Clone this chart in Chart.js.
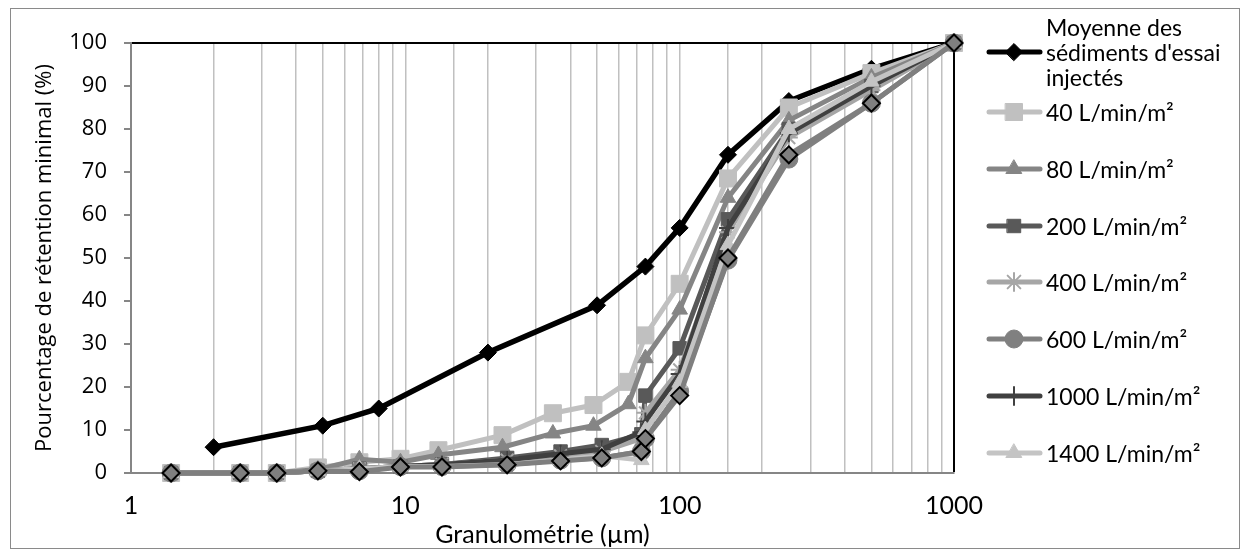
<!DOCTYPE html>
<html>
<head>
<meta charset="utf-8">
<script src="https://cdn.jsdelivr.net/npm/chart.js@4.4.0/dist/chart.umd.min.js"></script>
<style>
  html, body { margin: 0; padding: 0; background: #fff; }
  #wrap { position: relative; width: 1248px; height: 550px; overflow: hidden; }
  #frame { position: absolute; left: 10px; top: 8px; width: 1230px; height: 541px; border: 1px solid #8a8a8a; box-sizing: border-box; pointer-events: none; }
  #chart { position: absolute; left: 0; top: 0; }
  .sw { position: absolute; left: 985px; }
  .lbl { position: absolute; left: 1046px; font-family: Lato, sans-serif; font-size: 23px; line-height: 24px; color: #000; white-space: nowrap; }
</style>
</head>
<body>
<div id="wrap">
  <div id="frame"></div>
  <canvas id="chart" width="1248" height="550"></canvas>
  <div id="legend"></div>
</div>
<script>
// mean of the injected test sediment
const xMoyenne = [2, 5, 8, 20, 50, 75, 100, 150, 250, 500, 1000];
const yMoyenne = [6, 11, 15, 28, 39, 48, 57, 74, 86.5, 94, 100];

// particle sizes (µm) of the retained fractions
const xSizesA = [1.4, 2.5, 3.4, 4.8, 6.8, 9.6, 13.2, 22.6, 34.5, 48.5, 65, 75, 100, 150, 250, 500, 1000];
const xSizesB = [1.4, 2.5, 3.4, 4.8, 6.8, 9.6, 13.6, 23.5, 36.8, 52, 72.5, 75, 100, 150, 250, 500, 1000];

const y40 = [0, 0, 0, 1.3, 2.5, 3.3, 5.3, 8.8, 13.9, 15.8, 21.2, 32, 44, 68.5, 85, 93, 100];
const y80 = [0, 0, 0, 0.8, 3.2, 2.5, 4.2, 6, 9.2, 11, 16, 26.7, 38, 64, 82, 92, 100];
const y200 = [0, 0, 0, 0.5, 1, 1.5, 2, 3.5, 5, 6.5, 9, 18, 29, 59, 80, 90, 100];
const y400 = [0, 0, 0, 0.5, 1, 1.5, 2, 3, 4, 5, 8, 14, 24, 56, 78, 89, 100];
const y600 = [0, 0, 0, 0.5, 0.5, 1.5, 1.5, 2, 3, 3.5, 5, 8, 19, 49.5, 73, 86, 100];
const y1000 = [0, 0, 0, 0.5, 1, 1.5, 2, 3, 4.5, 5.5, 9.5, 12, 23, 57, 79, 90, 100];
const y1400 = [0, 0, 0, 0.5, 1, 1.5, 1.5, 2, 3, 4, 3, 10, 21, 53, 80, 91, 100];
const yDiamond = [0, 0, 0, 0.5, 0.3, 1.4, 1.4, 1.9, 2.8, 3.5, 5, 8, 18, 50, 74, 86, 100];

const seriesLabels = ['Moyenne des|sédiments d\'essai|injectés', '40 L/min/m²', '80 L/min/m²', '200 L/min/m²',
  '400 L/min/m²', '600 L/min/m²', '1000 L/min/m²', '1400 L/min/m²', ''];
const seriesX = [xMoyenne, xSizesA, xSizesA, xSizesB, xSizesB, xSizesB, xSizesB, xSizesB, xSizesB];
const seriesY = [yMoyenne, y40, y80, y200, y400, y600, y1000, y1400, yDiamond];

const styles = [
  { line: '#000000', fill: '#000000', border: '#000000', point: 'rectRot', r: 8.5, bw: 1 },
  { line: '#c0c0c0', fill: '#c0c0c0', border: '#c0c0c0', point: 'rect', r: 12, bw: 1 },
  { line: '#858585', fill: '#858585', border: '#858585', point: 'triangle', r: 9, bw: 1 },
  { line: '#595959', fill: '#595959', border: '#595959', point: 'rect', r: 9.5, bw: 1 },
  { line: '#a6a6a6', fill: '#a6a6a6', border: '#a6a6a6', point: 'star', r: 9, bw: 2 },
  { line: '#808080', fill: '#808080', border: '#808080', point: 'circle', r: 9, bw: 1 },
  { line: '#404040', fill: '#404040', border: '#404040', point: 'cross', r: 9, bw: 2 },
  { line: '#c4c4c4', fill: '#c4c4c4', border: '#c4c4c4', point: 'triangle', r: 9, bw: 1 },
  { line: '#7f7f7f', fill: '#7f7f7f', border: '#000000', point: 'rectRot', r: 8.5, bw: 2 }
];

const rowY = [52, 112, 169, 226, 282, 339, 396, 453];

const datasets = seriesY.map((ys, i) => ({
  label: seriesLabels[i],
  data: ys.map((y, j) => ({ x: seriesX[i][j], y: y })),
  borderColor: styles[i].line,
  borderWidth: i === 0 ? 5.5 : 5,
  backgroundColor: styles[i].fill,
  pointStyle: styles[i].point,
  pointRadius: styles[i].r,
  pointBorderColor: styles[i].border,
  pointBackgroundColor: styles[i].fill,
  pointBorderWidth: styles[i].bw,
  tension: 0,
  clip: false,
  order: seriesY.length - i
}));

new Chart(document.getElementById('chart'), {
  type: 'line',
  data: { datasets },
  options: {
    responsive: false,
    animation: false,
    layout: { padding: { left: 0, top: 43, right: 294, bottom: 0 } },
    plugins: { legend: { display: false }, tooltip: { enabled: false } },
    scales: {
      x: {
        type: 'logarithmic',
        min: 1,
        max: 1000,
        grid: {
          color: c => (c.tick && c.tick.value === 1000) ? '#000000' : '#c0c0c0',
          lineWidth: c => (c.tick && c.tick.value === 1000) ? 2 : 1.5,
          drawTicks: false
        },
        border: { color: '#868686', width: 2 },
        ticks: {
          autoSkip: false,
          maxRotation: 0,
          padding: 18,
          color: '#000',
          font: { family: 'Lato', size: 25 },
          callback: v => {
            const l = Math.log10(v);
            return Math.abs(l - Math.round(l)) < 1e-9 ? String(v) : '';
          }
        },
        title: {
          display: true,
          text: 'Granulométrie (µm)',
          color: '#000',
          font: { family: 'Lato', size: 25 },
          padding: { top: 0, bottom: 0 }
        },
        afterFit: s => { s.height = 77; }
      },
      y: {
        min: 0,
        max: 100,
        ticks: { stepSize: 10, padding: 17, color: '#000', font: { family: 'Open Sans', size: 22 } },
        grid: {
          color: c => (c.tick && c.tick.value === 100) ? '#000000' : 'rgba(0,0,0,0)',
          lineWidth: 2,
          tickColor: '#868686',
          tickLength: 7
        },
        border: { color: '#868686', width: 2 },
        title: {
          display: true,
          text: 'Pourcentage de rétention minimal (%)',
          color: '#000',
          font: { family: 'Open Sans', size: 22 },
          padding: { top: 32, bottom: 0 }
        },
        afterFit: s => { s.width = 131; }
      }
    }
  }
});

// legend, drawn beside the chart
const legend = document.getElementById('legend');
seriesLabels.slice(0, rowY.length).forEach((label, i) => {
  const st = styles[i];
  const sw = document.createElement('canvas');
  sw.width = 58; sw.height = 28;
  sw.className = 'sw';
  sw.style.top = (rowY[i] - 14) + 'px';
  legend.appendChild(sw);
  const ctx = sw.getContext('2d');
  ctx.strokeStyle = st.line;
  ctx.lineWidth = 5;
  ctx.lineCap = 'round';
  ctx.beginPath();
  ctx.moveTo(4, 14);
  ctx.lineTo(55, 14);
  ctx.stroke();
  ctx.fillStyle = st.fill;
  ctx.strokeStyle = st.border;
  ctx.lineWidth = st.bw;
  Chart.helpers.drawPoint(ctx, { pointStyle: st.point, radius: st.r, rotation: 0, borderWidth: st.bw }, 29, 14);

  const lines = label.split('|');
  const t = document.createElement('div');
  t.className = 'lbl';
  if (lines.length > 1) {
    t.style.lineHeight = '25px';
    t.style.top = (rowY[i] - 12.5 - 25) + 'px';
  } else {
    t.style.top = (rowY[i] - 12) + 'px';
  }
  lines.forEach((ln, k) => {
    if (k) t.appendChild(document.createElement('br'));
    t.appendChild(document.createTextNode(ln));
  });
  legend.appendChild(t);
});
</script>
</body>
</html>
